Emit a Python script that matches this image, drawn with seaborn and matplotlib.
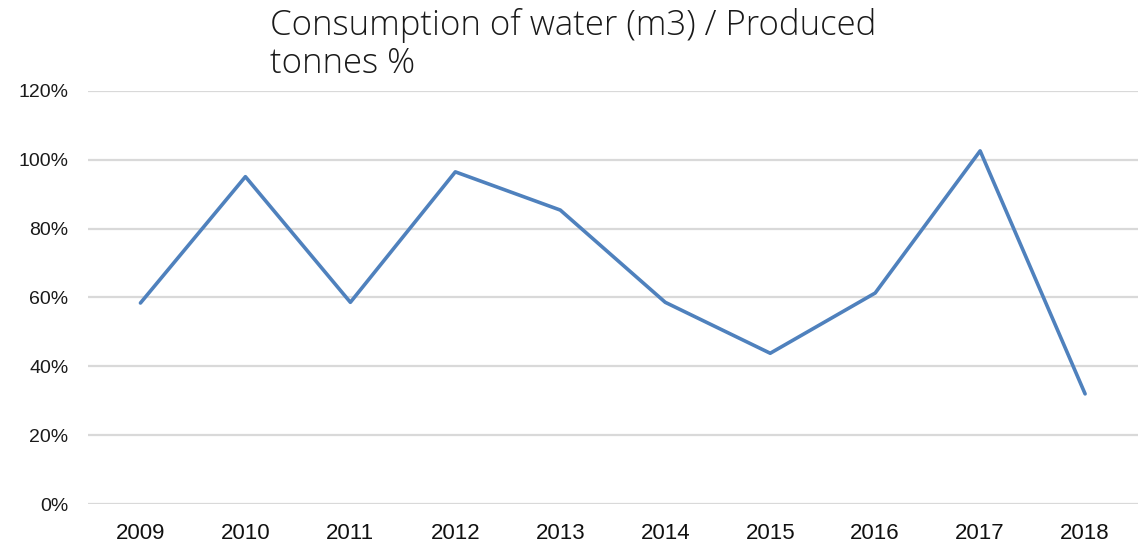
import matplotlib
matplotlib.use("Agg")
import matplotlib.pyplot as plt
import seaborn as sns
import pandas as pd
from matplotlib.ticker import FuncFormatter

years = ["2009", "2010", "2011", "2012", "2013", "2014", "2015", "2016", "2017", "2018"]
values = [58.4, 95.1, 58.6, 96.5, 85.4, 58.6, 43.8, 61.3, 102.6, 32.0]
yticks = [0, 20, 40, 60, 80, 100, 120]

sns.set_theme(style="white")
plt.rcParams['font.family'] = ['Liberation Sans', 'DejaVu Sans']

df = pd.DataFrame({"year": years, "value": values})

fig = plt.figure(figsize=(11.41, 5.5), dpi=100)
ax = fig.add_axes([0.0771, 0.0836, 0.9199, 0.751])

sns.lineplot(data=df, x="year", y="value", ax=ax, color="#4F81BD",
             linewidth=2.6, sort=False)

ax.set_xlim(-0.5, len(years) - 0.5)
ax.set_ylim(0, 120)
ax.set_yticks(yticks)
ax.yaxis.set_major_formatter(FuncFormatter(lambda v, p: f"{int(v)}%"))
ax.grid(axis="y", color="#D9D9D9", linewidth=1.6)
ax.set_axisbelow(True)
for s in ax.spines.values():
    s.set_visible(False)
ax.set_xlabel("")
ax.set_ylabel("")
ax.tick_params(axis="y", labelsize=14, colors="#1a1a1a", pad=14, length=0)
ax.tick_params(axis="x", labelsize=16, colors="#111111", pad=14, length=0)

fig.text(0.2366, 0.985, "Consumption of water (m3) / Produced\ntonnes %",
         ha="left", va="top", fontsize=25, color="#1a1a1a",
         family=["Open Sans", "DejaVu Sans"], fontweight="light",
         linespacing=1.12)

fig.savefig("out.png", dpi=100)
